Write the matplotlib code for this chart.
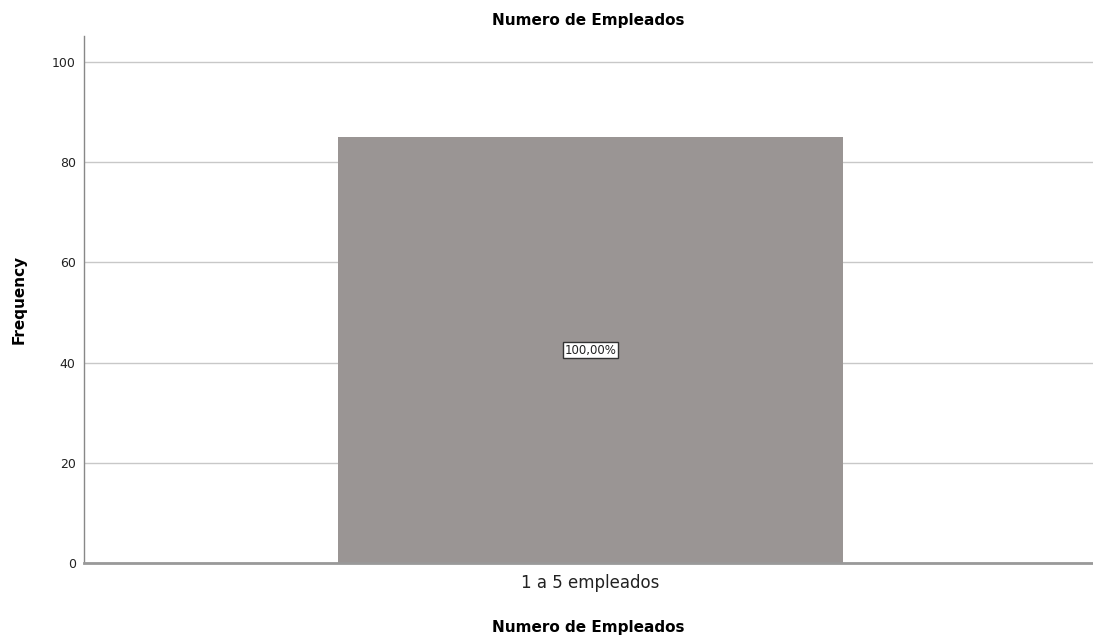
import matplotlib.pyplot as plt

categories = ['1 a 5 empleados']
frequencies = [85]
percent_labels = ['100,00%']

fig = plt.figure(figsize=(10.93, 6.4), dpi=100)
ax = fig.add_axes([0.0769, 0.1203, 0.9231, 0.8235])

x = list(range(len(categories)))
bars = ax.bar(x, frequencies, width=1.0, color='#9a9594', zorder=3)

# percent label in the middle of each bar
for xi, f, lab in zip(x, frequencies, percent_labels):
    ax.text(xi, f / 2, lab, ha='center', va='center', fontsize=8.5, color='#222222',
            bbox=dict(boxstyle='square,pad=0.15', facecolor='white', edgecolor='#333333', linewidth=1.0),
            zorder=4)

ax.set_xlim(-1.004, 0.996)
ax.set_ylim(0, 105.2)
ax.set_yticks([0, 20, 40, 60, 80, 100])
ax.set_xticks(x)
ax.set_xticklabels(categories, fontsize=12, color='#222222')
ax.tick_params(axis='both', length=0)
ax.tick_params(axis='y', labelsize=9, labelcolor='#222222', pad=6)
ax.tick_params(axis='x', pad=8)

ax.yaxis.grid(True, color='#c8c8c8', linewidth=1.0, zorder=1)
ax.set_axisbelow(True)

for s in ['top', 'right']:
    ax.spines[s].set_visible(False)
ax.spines['left'].set_color('#888888')
ax.spines['left'].set_linewidth(1.0)
ax.spines['bottom'].set_color('#999999')
ax.spines['bottom'].set_linewidth(2.0)
ax.spines['bottom'].set_zorder(5)

ax.set_title('Numero de Empleados', fontsize=11, fontweight='bold', pad=8)
ax.set_xlabel('Numero de Empleados', fontsize=11, fontweight='bold', labelpad=20)
ax.set_ylabel('Frequency', fontsize=11, fontweight='bold', labelpad=18)

fig.savefig('out.png', dpi=100)
